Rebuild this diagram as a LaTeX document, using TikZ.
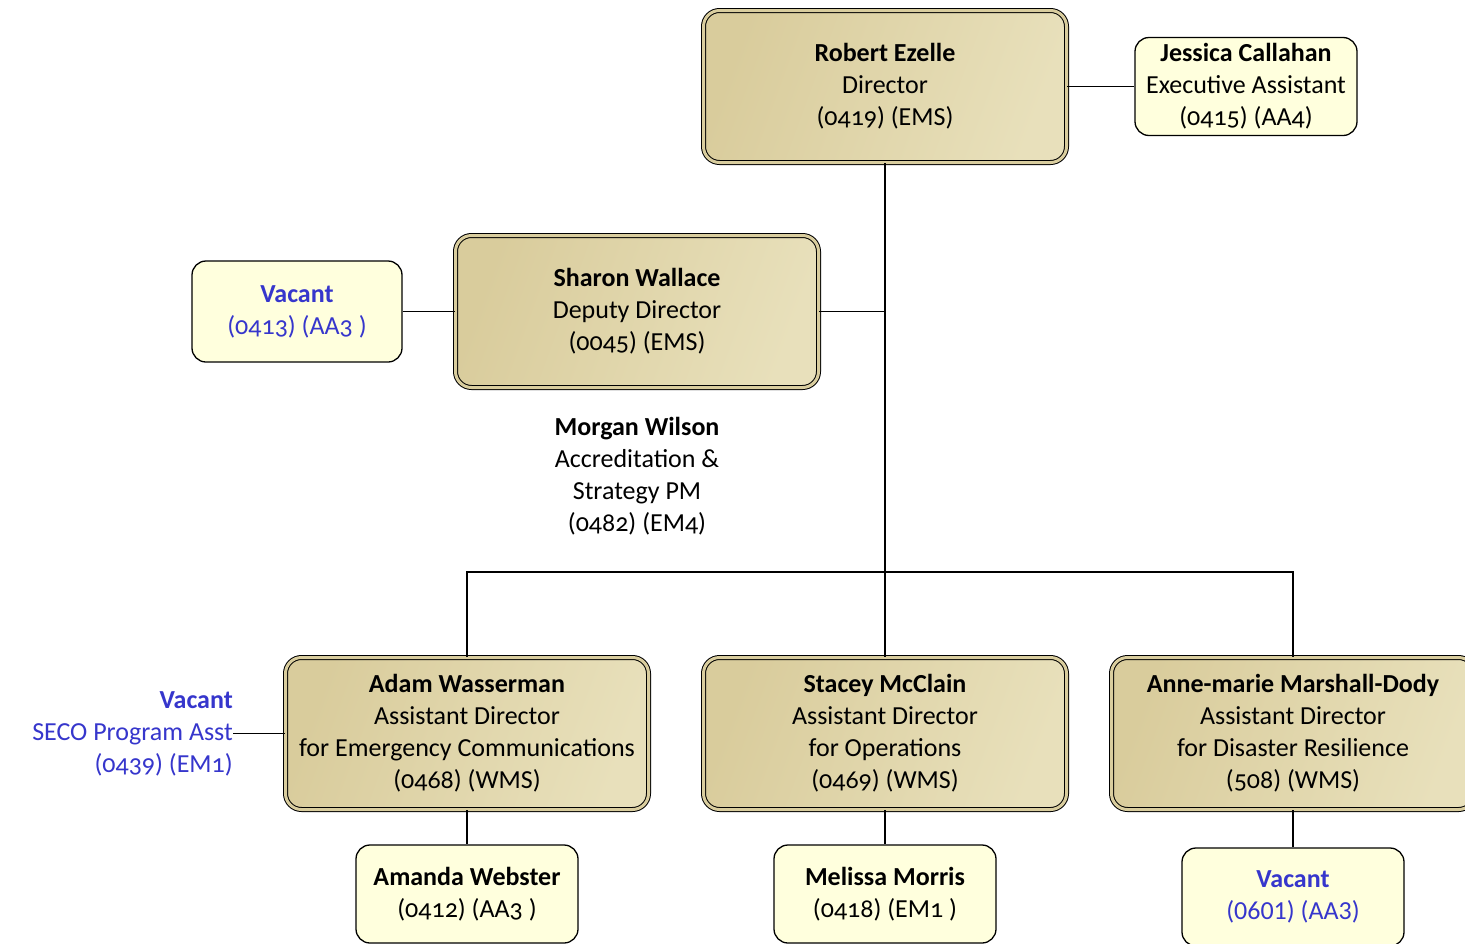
\documentclass[tikz,border=0pt]{standalone}
\usepackage{fontspec}
\setmainfont{Carlito}[Numbers=OldStyle]
\newfontfamily\liningfont{Carlito}[Numbers=Lining]
\definecolor{tanL}{HTML}{D9CC9C}
\definecolor{tanR}{HTML}{E8E0BB}
\definecolor{tanc}{HTML}{D9CD9E}
\definecolor{yel}{HTML}{FFFFDD}
\definecolor{vblue}{HTML}{3636CC}
\newcommand{\chartfs}{\fontsize{26}{32}\selectfont}
\tikzset{
  bigbox/.style={rectangle, rounded corners=16pt, draw=black, line width=1pt,
    double=tanc, double distance=3pt, left color=tanL, right color=tanR, shading angle=70,
    minimum width=363pt, minimum height=152pt, align=center, inner sep=0pt, font=\chartfs},
  smallbox/.style={rectangle, rounded corners=14pt, draw=black, line width=1.3pt,
    fill=yel, minimum width=222pt, minimum height=98pt, align=center, inner sep=0pt, font=\chartfs},
  plain/.style={align=center, inner sep=0pt, font=\chartfs},
  conn/.style={line width=1.8pt}
}
\begin{document}
\begin{tikzpicture}[x=1pt,y=-1pt]
\useasboundingbox (0,0) rectangle (1465,943);
\clip (0,0) rectangle (1465,943);
\fill[white] (0,0) rectangle (1465,943);
% nodes
\node[bigbox] (dir) at (885,86.5) {\textbf{Robert Ezelle}\\Director\\(0419) (EMS)};
\node[smallbox] (jess) at (1246,86.5) {\textbf{Jessica Callahan}\\Executive Assistant\\(0415) (AA4)};
\node[bigbox] (sharon) at (637,311.5) {\textbf{Sharon Wallace}\\Deputy Director\\(0045) (EMS)};
\node[smallbox, minimum width=210pt, minimum height=101pt, text=vblue] (vac1) at (297,311.5) {\textbf{Vacant}\\(0413) (AA3 )};
\node[plain] (morgan) at (637,476) {\textbf{Morgan Wilson}\\Accreditation \&\\Strategy PM\\(0482) (EM4)};
\node[bigbox] (adam) at (467,733.5) {\textbf{Adam Wasserman}\\Assistant Director\\for Emergency Communications\\(0468) (WMS)};
\node[bigbox] (stacey) at (885,733.5) {\textbf{Stacey McClain}\\Assistant Director\\for Operations\\(0469) (WMS)};
\node[bigbox] (anne) at (1293,733.5) {\textbf{Anne-marie Marshall-Dody}\\Assistant Director\\for Disaster Resilience\\(508) (WMS)};
\node[plain, align=right, anchor=east, text=vblue] (seco) at (233,733.5) {\textbf{Vacant}\\SECO Program Asst\\(0439) (EM1)};
\node[smallbox] (amanda) at (467,894) {\textbf{Amanda Webster}\\(0412) (AA3 )};
\node[smallbox] (melissa) at (885,894) {\textbf{Melissa Morris}\\(0418) (EM1 )};
\node[smallbox, text=vblue] (vac2) at (1293,897) {\textbf{Vacant}\\{\liningfont(0601) (AA3)}};
\coordinate (j) at (885,572);
% connectors
\draw[conn] (dir.south) -- (j);
\draw[conn] (dir.east) -- (jess.west);
\draw[conn] (sharon.east) -- (sharon.east -| dir.south);
\draw[conn] (vac1.east) -- (sharon.west);
\draw[conn] (adam.north) |- (j) -| (anne.north);
\draw[conn] (j) -- (stacey.north);
\draw[conn] (seco.east) -- (adam.west);
\draw[conn] (adam.south) -- (amanda.north);
\draw[conn] (stacey.south) -- (melissa.north);
\draw[conn] (anne.south) -- (vac2.north);
\end{tikzpicture}
\end{document}
